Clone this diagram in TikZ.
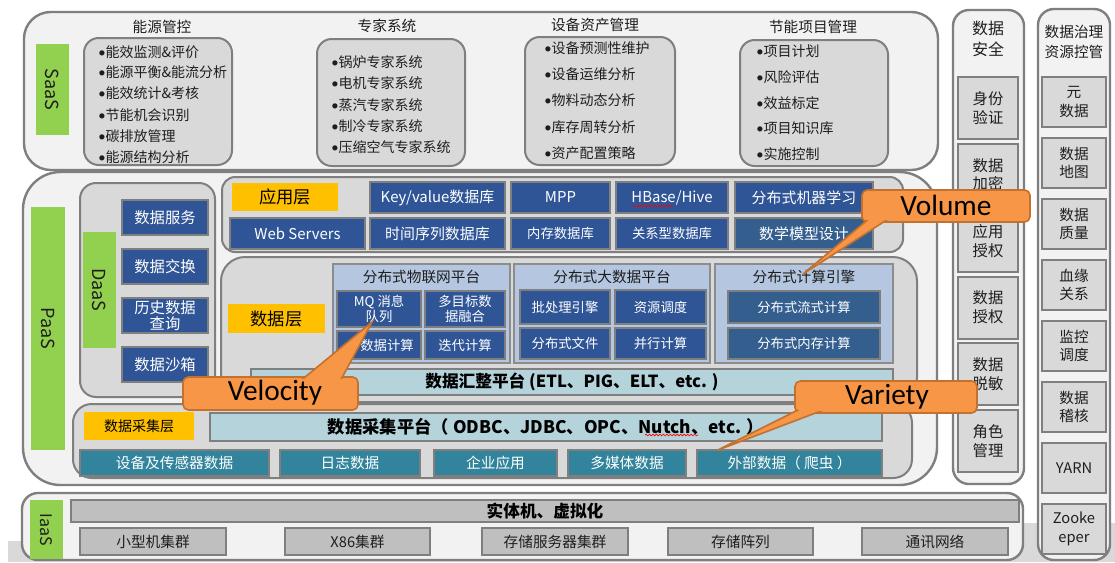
\documentclass[tikz,border=0pt]{standalone}
\usepackage{fontspec}
\setmainfont{Noto Sans CJK SC}
\newfontfamily\calfont{Carlito}
\usetikzlibrary{decorations.pathmorphing}
\definecolor{lt}{HTML}{F2F2F2}
\definecolor{md}{HTML}{D9D9D9}
\definecolor{bord}{HTML}{7F7F7F}
\definecolor{grn}{HTML}{92D050}
\definecolor{yel}{HTML}{FFC000}
\definecolor{dblue}{HTML}{2F5597}
\definecolor{dblueb}{HTML}{335E8E}
\definecolor{tealc}{HTML}{31849B}
\definecolor{lbarc}{HTML}{B5D3DB}
\definecolor{pnl}{HTML}{B4C6E0}
\definecolor{gbox}{HTML}{BFBFBF}
\definecolor{orng}{HTML}{F79646}
\definecolor{orngd}{HTML}{C3712F}
\definecolor{band}{HTML}{D9D9D9}
\definecolor{tx}{HTML}{1E1E1E}
\newcommand\fs[2]{\fontsize{#1}{#2}\selectfont}
\newcommand\bul{{\calfont\fs{11}{12}•}}
\newcommand\bx[7]{\node[#6, minimum width={(#4-#2)*0.75pt}, minimum height={(#5-#3)*0.75pt}] (#1) at ({(#2+#4)/2},{(#3+#5)/2}) {#7};}
\tikzset{
 base/.style={inner sep=0pt, outer sep=0pt, align=center, draw=bord, line width=1.5pt, text=tx},
 outerbox/.style={base, fill=lt, line width=1.8pt, rounded corners=18pt},
 grpbox/.style={base, fill=md, rounded corners=11pt},
 greenlbl/.style={inner sep=0pt, fill=grn},
 lbltext/.style={rotate=-90, text=tx, font=\fs{13.5}{14}},
 yelbox/.style={inner sep=0pt, fill=yel, text=black, align=center, font=\fs{13}{15}},
 gtitle/.style={text=tx, font=\fs{11}{13}},
 item/.style={inner sep=0pt, anchor=west, text=tx, font=\fs{10.5}{12}},
 dbtn/.style={base, fill=dblue, text=white, font=\fs{11.5}{12.5}},
 abtn/.style={base, fill=dblue, text=white, font=\fs{11.2}{13}},
 ptitle/.style={text=tx, font=\fs{11}{13}},
 panel/.style={base, fill=pnl, draw=bord!90},
 pbtn/.style={base, fill=dblue, text=white, font=\fs{10}{11.5}},
 lbar/.style={base, fill=lbarc, text=black, font=\bfseries\fs{12.5}{14}},
 sbtn/.style={base, fill=tealc, text=white, font=\fs{11}{13}},
 gbar/.style={base, fill=gbox, text=black, font=\bfseries\fs{12.5}{14}},
 ibox/.style={base, fill=gbox, font=\fs{11}{13}},
 rbox/.style={base, fill=md, font=\fs{11.5}{14}},
 ctitle/.style={align=center, text=tx},
 wavy/.style={draw=red, line width=0.5pt, decorate, decoration={snake, amplitude=0.6pt, segment length=2.6pt}},
 callout/.style={fill=orng, draw=orngd, line width=1.2pt},
 cotext/.style={text=black, font=\calfont\fs{22}{24}}
}
\begin{document}
\begin{tikzpicture}[x=0.75pt,y=-0.75pt]
\useasboundingbox (0,0) rectangle (1115,562);
\fill[white] (0,0) rectangle (1115,562);
\fill[band] (8,541) rectangle (1115,562);
\fill[band] (1023,523) rectangle (1115,562);

% ---------- SaaS
\bx{saas}{24}{12}{938}{170}{outerbox, rounded corners=20pt}{}
\bx{saasg}{36}{44}{69}{135}{greenlbl}{}
\node[lbltext] (saast) at (saasg) {SaaS};
\node[gtitle] (t1) at (162,27) {能源管控};
\node[gtitle] (t2) at (387,26) {专家系统};
\node[gtitle] (t3) at (595,25) {设备资产管理};
\node[gtitle] (t4) at (813,27) {节能项目管理};
\bx{g1}{84}{38}{232}{165}{grpbox}{}
\bx{g2}{317}{39}{465}{166}{grpbox}{}
\bx{g3}{525}{37}{675}{165}{grpbox}{}
\bx{g4}{740}{40}{888}{166}{grpbox}{}
\foreach \t/\y [count=\i] in {能效监测\&评价/52, 能源平衡\&能流分析/72, 能效统计\&考核/93, 节能机会识别/115, 碳排放管理/136, 能源结构分析/157}
  {\node[item] (g1i\i) at (98,\y) {\bul\t};}
\foreach \t/\y [count=\i] in {锅炉专家系统/62, 电机专家系统/83, 蒸汽专家系统/105, 制冷专家系统/126, 压缩空气专家系统/147}
  {\node[item] (g2i\i) at (331,\y) {\bul\t};}
\foreach \t/\y [count=\i] in {设备预测性维护/48, 设备运维分析/74, 物料动态分析/100, 库存周转分析/127, 资产配置策略/153}
  {\node[item] (g3i\i) at (544,\y) {\bul\t};}
\foreach \t/\y [count=\i] in {项目计划/51, 风险评估/77, 效益标定/103, 项目知识库/128, 实施控制/154}
  {\node[item] (g4i\i) at (756,\y) {\bul\t};}

% ---------- PaaS
\bx{paas}{23}{172}{937}{485}{outerbox, rounded corners=28pt}{}
\bx{paasg}{31}{207}{65}{450}{greenlbl}{}
\node[lbltext] (paast) at (paasg) {PaaS};

% DaaS
\bx{daas}{80}{183}{215}{397}{grpbox, rounded corners=12pt}{}
\bx{daasg}{83}{232}{116}{348}{greenlbl}{}
\node[lbltext] (daast) at (daasg) {DaaS};
\bx{d1}{122}{200}{208}{235}{dbtn}{数据服务}
\bx{d2}{122}{249}{208}{284}{dbtn}{数据交换}
\bx{d3}{122}{298}{208}{333}{dbtn}{历史数据\\查询}
\bx{d4}{122}{347}{208}{382}{dbtn}{数据沙箱}

% application layer
\bx{app}{222}{177}{903}{252}{grpbox, rounded corners=10pt}{}
\bx{appl}{232}{183}{338}{211}{yelbox}{应用层}
\bx{a1}{370}{182}{505}{213}{abtn}{Key/value数据库}
\bx{a2}{511}{182}{610}{213}{abtn}{MPP}
\bx{a3}{616}{182}{728}{213}{abtn}{HBase/Hive}
\bx{a4}{735}{182}{873}{213}{abtn}{分布式机器学习}
\bx{a5}{230}{218}{365}{249}{abtn}{Web Servers}
\bx{a6}{370}{218}{505}{249}{abtn}{时间序列数据库}
\bx{a7}{511}{218}{610}{249}{abtn, font=\fs{10}{12}}{内存数据库}
\bx{a8}{616}{218}{728}{249}{abtn, font=\fs{10}{12}}{关系型数据库}
\bx{a9}{735}{218}{873}{249}{abtn, fill=dblueb}{数学模型设计}
\draw[wavy] (633,206) -- (673,206);

% data layer
\bx{data}{221}{257}{917}{402}{grpbox, rounded corners=18pt}{}
\bx{datal}{228}{304}{325}{333}{yelbox}{数据层}
\bx{p1}{333}{264}{510}{363}{panel}{}
\bx{p2}{514}{264}{710}{363}{panel}{}
\bx{p3}{715}{264}{893}{363}{panel}{}
\node[ptitle] (p1t) at (421.5,277) {分布式物联网平台};
\node[ptitle] (p2t) at (612,277) {分布式大数据平台};
\node[ptitle] (p3t) at (804,277) {分布式计算引擎};
\bx{p1a}{337}{291}{421}{327}{pbtn}{MQ 消息\\队列}
\bx{p1b}{425}{291}{505}{327}{pbtn}{多目标数\\据融合}
\bx{p1c}{337}{331}{421}{359}{pbtn}{}
\node[anchor=east, inner sep=0pt, text=white, font=\fs{10}{12}] (p1ct) at (414,345) {数据计算};
\bx{p1d}{425}{331}{505}{359}{pbtn}{迭代计算}
\bx{p2a}{520}{290}{610}{324}{pbtn}{批处理引擎}
\bx{p2b}{615}{290}{706}{324}{pbtn}{资源调度}
\bx{p2c}{520}{328}{610}{359}{pbtn}{分布式文件}
\bx{p2d}{615}{328}{706}{359}{pbtn}{并行计算}
\bx{p3a}{728}{291}{880}{323}{pbtn, fill=dblueb}{分布式流式计算}
\bx{p3b}{728}{328}{880}{359}{pbtn, fill=dblueb}{分布式内存计算}
\bx{hz}{251}{369}{893}{395}{lbar}{数据汇整平台 (ETL、PIG、ELT、etc. )}

% collection layer
\bx{coll}{73}{404}{912}{478}{grpbox, rounded corners=14pt}{}
\bx{colll}{84}{412}{194}{440}{yelbox, font=\fs{10.5}{12}}{数据采集层}
\bx{cj}{210}{413}{882}{441}{lbar, font=\bfseries\fs{13}{14}}{数据采集平台（ ODBC、JDBC、OPC、Nutch、etc. ）}
\draw[wavy] (645,435) -- (698,435);
\bx{s1}{80}{450}{269}{476}{sbtn}{设备及传感器数据}
\bx{s2}{280}{450}{420}{476}{sbtn}{日志数据}
\bx{s3}{434}{450}{557}{476}{sbtn}{企业应用}
\bx{s4}{568}{450}{686}{476}{sbtn}{多媒体数据}
\bx{s5}{697}{450}{882}{476}{sbtn}{外部数据（ 爬虫 ）}

% ---------- right columns
\bx{sec}{953}{10}{1024}{484}{outerbox, rounded corners=12pt}{}
\node[ctitle, font=\fs{12}{16}] (sect) at (988,39) {数据\\安全};
\foreach \t/\y [count=\i] in {身份\\验证/77, 数据\\加密/143.5, 应用\\授权/210, 数据\\授权/276.5, 数据\\脱敏/343, 角色\\管理/410}
  {\bx{sec\i}{958}{\y}{1018}{\y+62}{rbox}{\t}}
\bx{gov}{1038}{9}{1110}{560}{outerbox, rounded corners=12pt}{}
\node[ctitle, font=\fs{11}{14.5}] (govt) at (1074,42) {数据治理\\资源控管};
\foreach \t/\y [count=\i] in {元\\数据/77, 数据\\地图/138, 数据\\质量/199, 血缘\\关系/260, 监控\\调度/321, 数据\\稽核/382, YARN/443, Zooke\\eper/504}
  {\bx{gov\i}{1042}{\y}{1106}{\y+50}{rbox, font=\fs{11}{14}}{\t}}

% ---------- IaaS
\bx{iaas}{22}{493}{1023}{560}{outerbox, rounded corners=12pt}{}
\bx{iaasg}{30}{500}{63}{559}{greenlbl}{}
\node[lbltext, font=\fs{12}{13}] (iaast) at (iaasg) {IaaS};
\bx{phys}{71}{500}{1019}{522}{gbar}{实体机、虚拟化}
\bx{i1}{80}{528}{226}{555}{ibox}{小型机集群}
\bx{i2}{285}{528}{430}{555}{ibox}{X86集群}
\bx{i3}{482}{528}{628}{555}{ibox}{存储服务器集群}
\bx{i4}{668}{528}{813}{555}{ibox}{存储阵列}
\bx{i5}{862}{528}{1008}{555}{ibox}{通讯网络}

% ---------- callouts
\draw[callout, rounded corners=4pt] (862,190) rectangle (1030,222);
\draw[callout] (877,212) -- (803,274) -- (899,212);
\fill[orng, rounded corners=3pt] (864,192) rectangle (1028,220);
\node[cotext] (vol) at (946,205) {Volume};

\draw[callout, rounded corners=4pt] (183,377) rectangle (358,410);
\draw[callout] (293,387) -- (372,322) -- (337,387);
\fill[orng, rounded corners=3pt] (185,379) rectangle (356,408);
\node[cotext] (vel) at (275,393) {Velocity};

\draw[callout, rounded corners=4pt] (795,381) rectangle (977,413);
\draw[callout] (812,403) -- (718,450) -- (842,403);
\fill[orng, rounded corners=3pt] (797,383) rectangle (975,411);
\node[cotext] (var) at (887,397) {Variety};
\end{tikzpicture}
\end{document}
